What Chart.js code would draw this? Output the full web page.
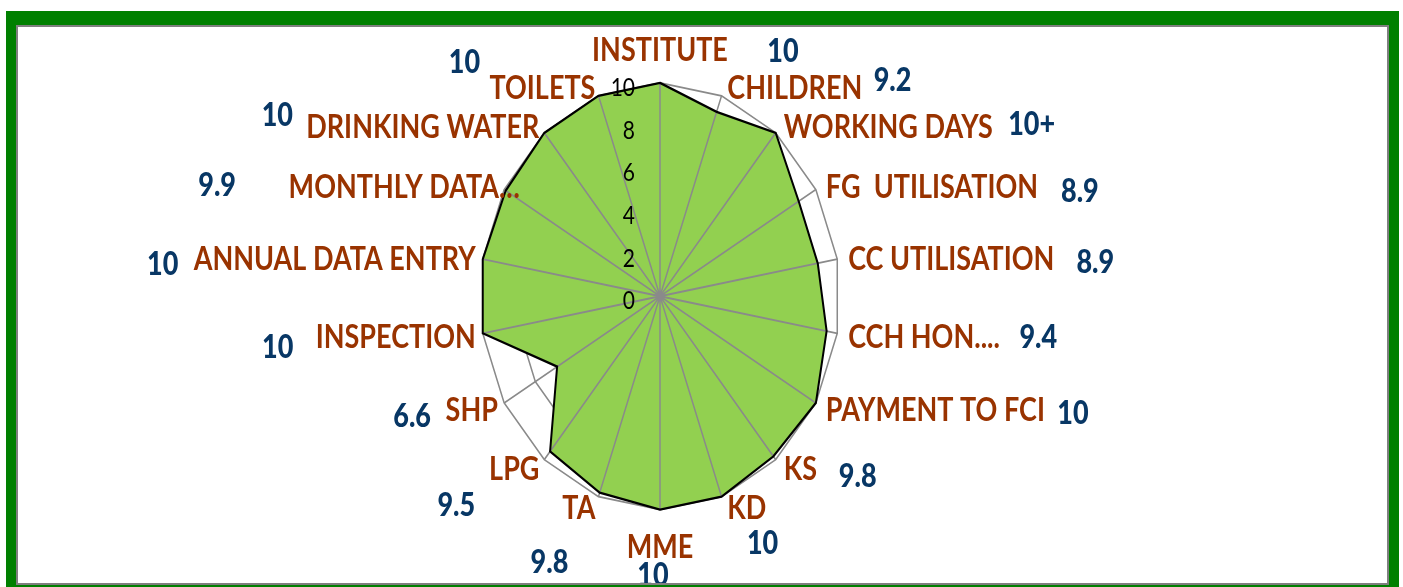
<!DOCTYPE html>
<html>
<head>
<meta charset="utf-8">
<script src="https://cdn.jsdelivr.net/npm/chart.js"></script>
<style>
html,body{margin:0;padding:0;background:#fff;width:1403px;height:587px;overflow:hidden;}
#frame{position:absolute;left:6px;top:11px;width:1393px;height:590px;background:#008000;}
#inner{position:absolute;left:16px;top:25px;width:1373px;height:560px;box-sizing:border-box;border:2px solid #7f7f7f;background:#fff;overflow:hidden;}
#chart{position:absolute;left:-18px;top:-27px;}
</style>
</head>
<body>
<div id="frame"></div>
<div id="inner"><canvas id="chart" width="1403" height="587"></canvas></div>
<script>
const categories = ["INSTITUTE","CHILDREN","WORKING DAYS","FG  UTILISATION","CC UTILISATION","CCH HON....","PAYMENT TO FCI","KS","KD","MME","TA","LPG","SHP","INSPECTION","ANNUAL DATA ENTRY","MONTHLY DATA\u2026","DRINKING WATER","TOILETS"];
const scores = [10,9.2,10,8.9,8.9,9.4,10,9.8,10,10,9.8,9.5,6.6,10,10,9.9,10,10];
const scoreNotes = ["10","9.2","10+","8.9","8.9","9.4","10","9.8","10","10","9.8","9.5","6.6","10","10","9.9","10","10"];
const scaleMin = 0, scaleMax = 10, scaleStep = 2;

// where each blue note sits, relative to its spoke end (screen px)
const noteOffsets = [[123,-32],[171,-16],[256,-9],[264,1],[258,2],[201,3],[257,10],[82,16],[41,46],[-7,65],[-49,65],[-88,45],[-92,13],[-205,13],[-320,4],[-287,-5],[-267,-18],[-134,-34]];

const stretch = 1.185;   // the original picture is taller than wide
const brown = "#993300", navy = "#083765";

function putText(ctx, text, x, yReal, align, size, weight, color){
    ctx.font = weight + " " + size + "px Lato";
    ctx.fillStyle = color;
    ctx.textAlign = align;
    ctx.textBaseline = "alphabetic";
    ctx.fillText(text, x, yReal/stretch + size*0.7165/2);
}

const radarLook = {
    id:"radarLook",
    beforeDraw(chart){
        chart.ctx.save();
        chart.ctx.scale(1, stretch);
    },
    beforeDatasetDraw(chart){
        // spokes sit on top of the green fill
        const r = chart.scales.r, ctx = chart.ctx;
        ctx.save();
        ctx.strokeStyle = "#8a8a8a";
        ctx.lineWidth = 1.5;
        ctx.beginPath();
        categories.forEach((c,i)=>{
            const p = r.getPointPosition(i, r.drawingArea);
            ctx.moveTo(r.xCenter, r.yCenter);
            ctx.lineTo(p.x, p.y);
        });
        ctx.stroke();
        ctx.restore();
    },
    afterDatasetsDraw(chart){
        const r = chart.scales.r, ctx = chart.ctx;
        ctx.save();
        // tick numbers
        r.ticks.forEach(t=>{
            const y = (r.yCenter - r.getDistanceFromCenterForValue(t.value))*stretch + 4;
            putText(ctx, String(t.value), r.xCenter - 25, y, "right", 21, "normal", "#000");
        });
        // category names
        categories.forEach((name,i)=>{
            const p = r.getPointPosition(i, r.drawingArea);
            const ang = i*2*Math.PI/categories.length;
            const s = Math.sin(ang), c = Math.cos(ang);
            const py = p.y*stretch;
            if(Math.abs(s) < 0.01){
                putText(ctx, name, p.x, c > 0 ? py - 33 : py + 37, "center", 27, "bold", brown);
            } else if(s > 0){
                putText(ctx, name, p.x + 3 + 8*s, py + 1.5 - 10*c, "left", 27, "bold", brown);
            } else {
                let x = p.x - 1 + 6*s;
                if(i === 15) x += 22;
                putText(ctx, name, x, py + 1.5 - 10*c, "right", 27, "bold", brown);
            }
        });
        // value notes
        scoreNotes.forEach((txt,i)=>{
            const p = r.getPointPosition(i, r.drawingArea);
            putText(ctx, txt, p.x + noteOffsets[i][0], p.y*stretch + noteOffsets[i][1], "center", 27, "900", navy);
        });
        ctx.restore();
    },
    afterDraw(chart){
        chart.ctx.restore();
    }
};

new Chart(document.getElementById("chart"),{
    type:"radar",
    data:{
        labels:categories,
        datasets:[{
            data:scores,
            backgroundColor:"#92d050",
            borderColor:"#000",
            borderWidth:2,
            fill:true,
            pointRadius:0,
            clip:false
        }]
    },
    options:{
        responsive:false,
        animation:false,
        devicePixelRatio:1,
        events:[],
        layout:{padding:{left:160,right:243,top:70,bottom:157}},
        plugins:{legend:{display:false},tooltip:{enabled:false}},
        scales:{
            r:{
                min:scaleMin,
                max:scaleMax,
                ticks:{display:false,stepSize:scaleStep},
                pointLabels:{display:false},
                angleLines:{display:false},
                grid:{color:"#8a8a8a",lineWidth:1.5}
            }
        }
    },
    plugins:[radarLook]
});
</script>
</body>
</html>
